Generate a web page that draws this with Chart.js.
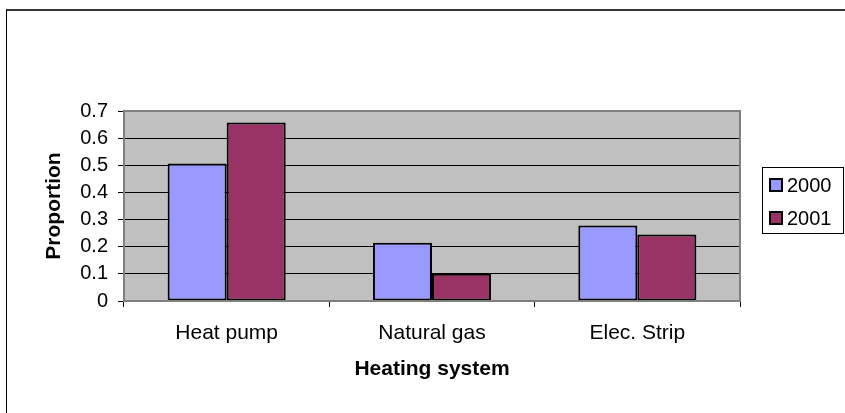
<!DOCTYPE html>
<html><head><meta charset="utf-8">
<script src="https://cdn.jsdelivr.net/npm/chart.js@4.4.1/dist/chart.umd.min.js"></script>
<style>
html,body{margin:0;padding:0;background:#fff;overflow:hidden;}
#wrap{position:relative;width:845px;height:413px;overflow:hidden;}
#frame{position:absolute;left:6px;top:9px;width:900px;height:500px;border-left:1px solid #000;border-top:2px solid #333;}
canvas{position:absolute;left:0;top:0;}
</style></head><body>
<div id="wrap"><div id="frame"></div><canvas id="c" width="845" height="413"></canvas></div>
<script>
const categories = ['Heat pump', 'Natural gas', 'Elec. Strip'];
const values2000 = [0.507, 0.215, 0.278];
const values2001 = [0.658, 0.100, 0.245];
const seriesLabels = ['2000', '2001'];
const yTickValues = [0, 0.1, 0.2, 0.3, 0.4, 0.5, 0.6, 0.7];
const xTitle = 'Heating system';
const yTitle = 'Proportion';

const FONT = "'Liberation Sans', Arial, sans-serif";

const plotBg = {
  id: 'plotBg',
  beforeDraw(chart) {
    const {ctx, chartArea: a} = chart;
    ctx.save();
    ctx.fillStyle = '#C0C0C0';
    ctx.fillRect(a.left, a.top, a.right - a.left, a.bottom - a.top);
    ctx.restore();
  },
  afterDatasetsDraw(chart) {
    const {ctx, chartArea: a} = chart;
    ctx.save();
    ctx.strokeStyle = '#808080';
    ctx.lineWidth = 2;
    ctx.strokeRect(a.left, a.top, a.right - a.left, a.bottom - a.top);
    ctx.restore();
  }
};

const boxLegend = {
  id: 'boxLegend',
  afterDraw(chart) {
    const ctx = chart.ctx;
    ctx.save();
    ctx.fillStyle = '#fff';
    ctx.fillRect(762, 167, 82, 67);
    ctx.strokeStyle = '#000';
    ctx.lineWidth = 1;
    ctx.strokeRect(762.5, 167.5, 81, 66);
    chart.data.datasets.forEach((ds, i) => {
      const cy = 185 + i * 33;
      ctx.fillStyle = ds.backgroundColor;
      ctx.fillRect(770, cy - 6, 12, 12);
      ctx.lineWidth = 2;
      ctx.strokeStyle = '#000';
      ctx.strokeRect(770, cy - 6, 12, 12);
      ctx.fillStyle = '#000';
      ctx.font = '20px ' + FONT;
      ctx.textBaseline = 'middle';
      ctx.textAlign = 'left';
      ctx.fillText(ds.label, 787, cy + 1);
    });
    ctx.restore();
  }
};

new Chart(document.getElementById('c'), {
  type: 'bar',
  data: {
    labels: categories,
    datasets: [
      {label: seriesLabels[0], data: values2000, backgroundColor: '#9999FF', borderColor: '#000', borderWidth: 2, borderSkipped: false},
      {label: seriesLabels[1], data: values2001, backgroundColor: '#993366', borderColor: '#000', borderWidth: 2, borderSkipped: false}
    ]
  },
  options: {
    responsive: false,
    animation: false,
    devicePixelRatio: 1,
    layout: {padding: {left: 0, top: 111, right: 105, bottom: 0}},
    datasets: {bar: {categoryPercentage: 0.575, barPercentage: 1}},
    plugins: {legend: {display: false}, tooltip: {enabled: false}},
    scales: {
      x: {
        offset: true,
        grid: {drawOnChartArea: false, drawTicks: true, tickLength: 6, color: '#000', lineWidth: 1},
        border: {display: false},
        ticks: {font: {family: FONT, size: 21}, color: '#000', padding: 14},
        title: {display: true, text: xTitle, font: {family: FONT, size: 21, weight: 'bold'}, color: '#000', padding: {top: 4, bottom: 31}},
        afterFit(s) { s.height = 112; }
      },
      y: {
        min: 0, max: 0.7,
        afterBuildTicks(s) { s.ticks = yTickValues.map(v => ({value: v})); },
        grid: {color: '#000', lineWidth: 1, tickLength: 6},
        border: {display: false},
        ticks: {font: {family: FONT, size: 20}, color: '#000', padding: 10,
          callback: v => String(Number(v.toFixed(1)))},
        title: {display: true, text: yTitle, font: {family: FONT, size: 21, weight: 'bold'}, color: '#000', padding: {top: 42, bottom: 4}},
        afterFit(s) { s.width = 124; }
      }
    }
  },
  plugins: [plotBg, boxLegend]
});
</script>
</body></html>
